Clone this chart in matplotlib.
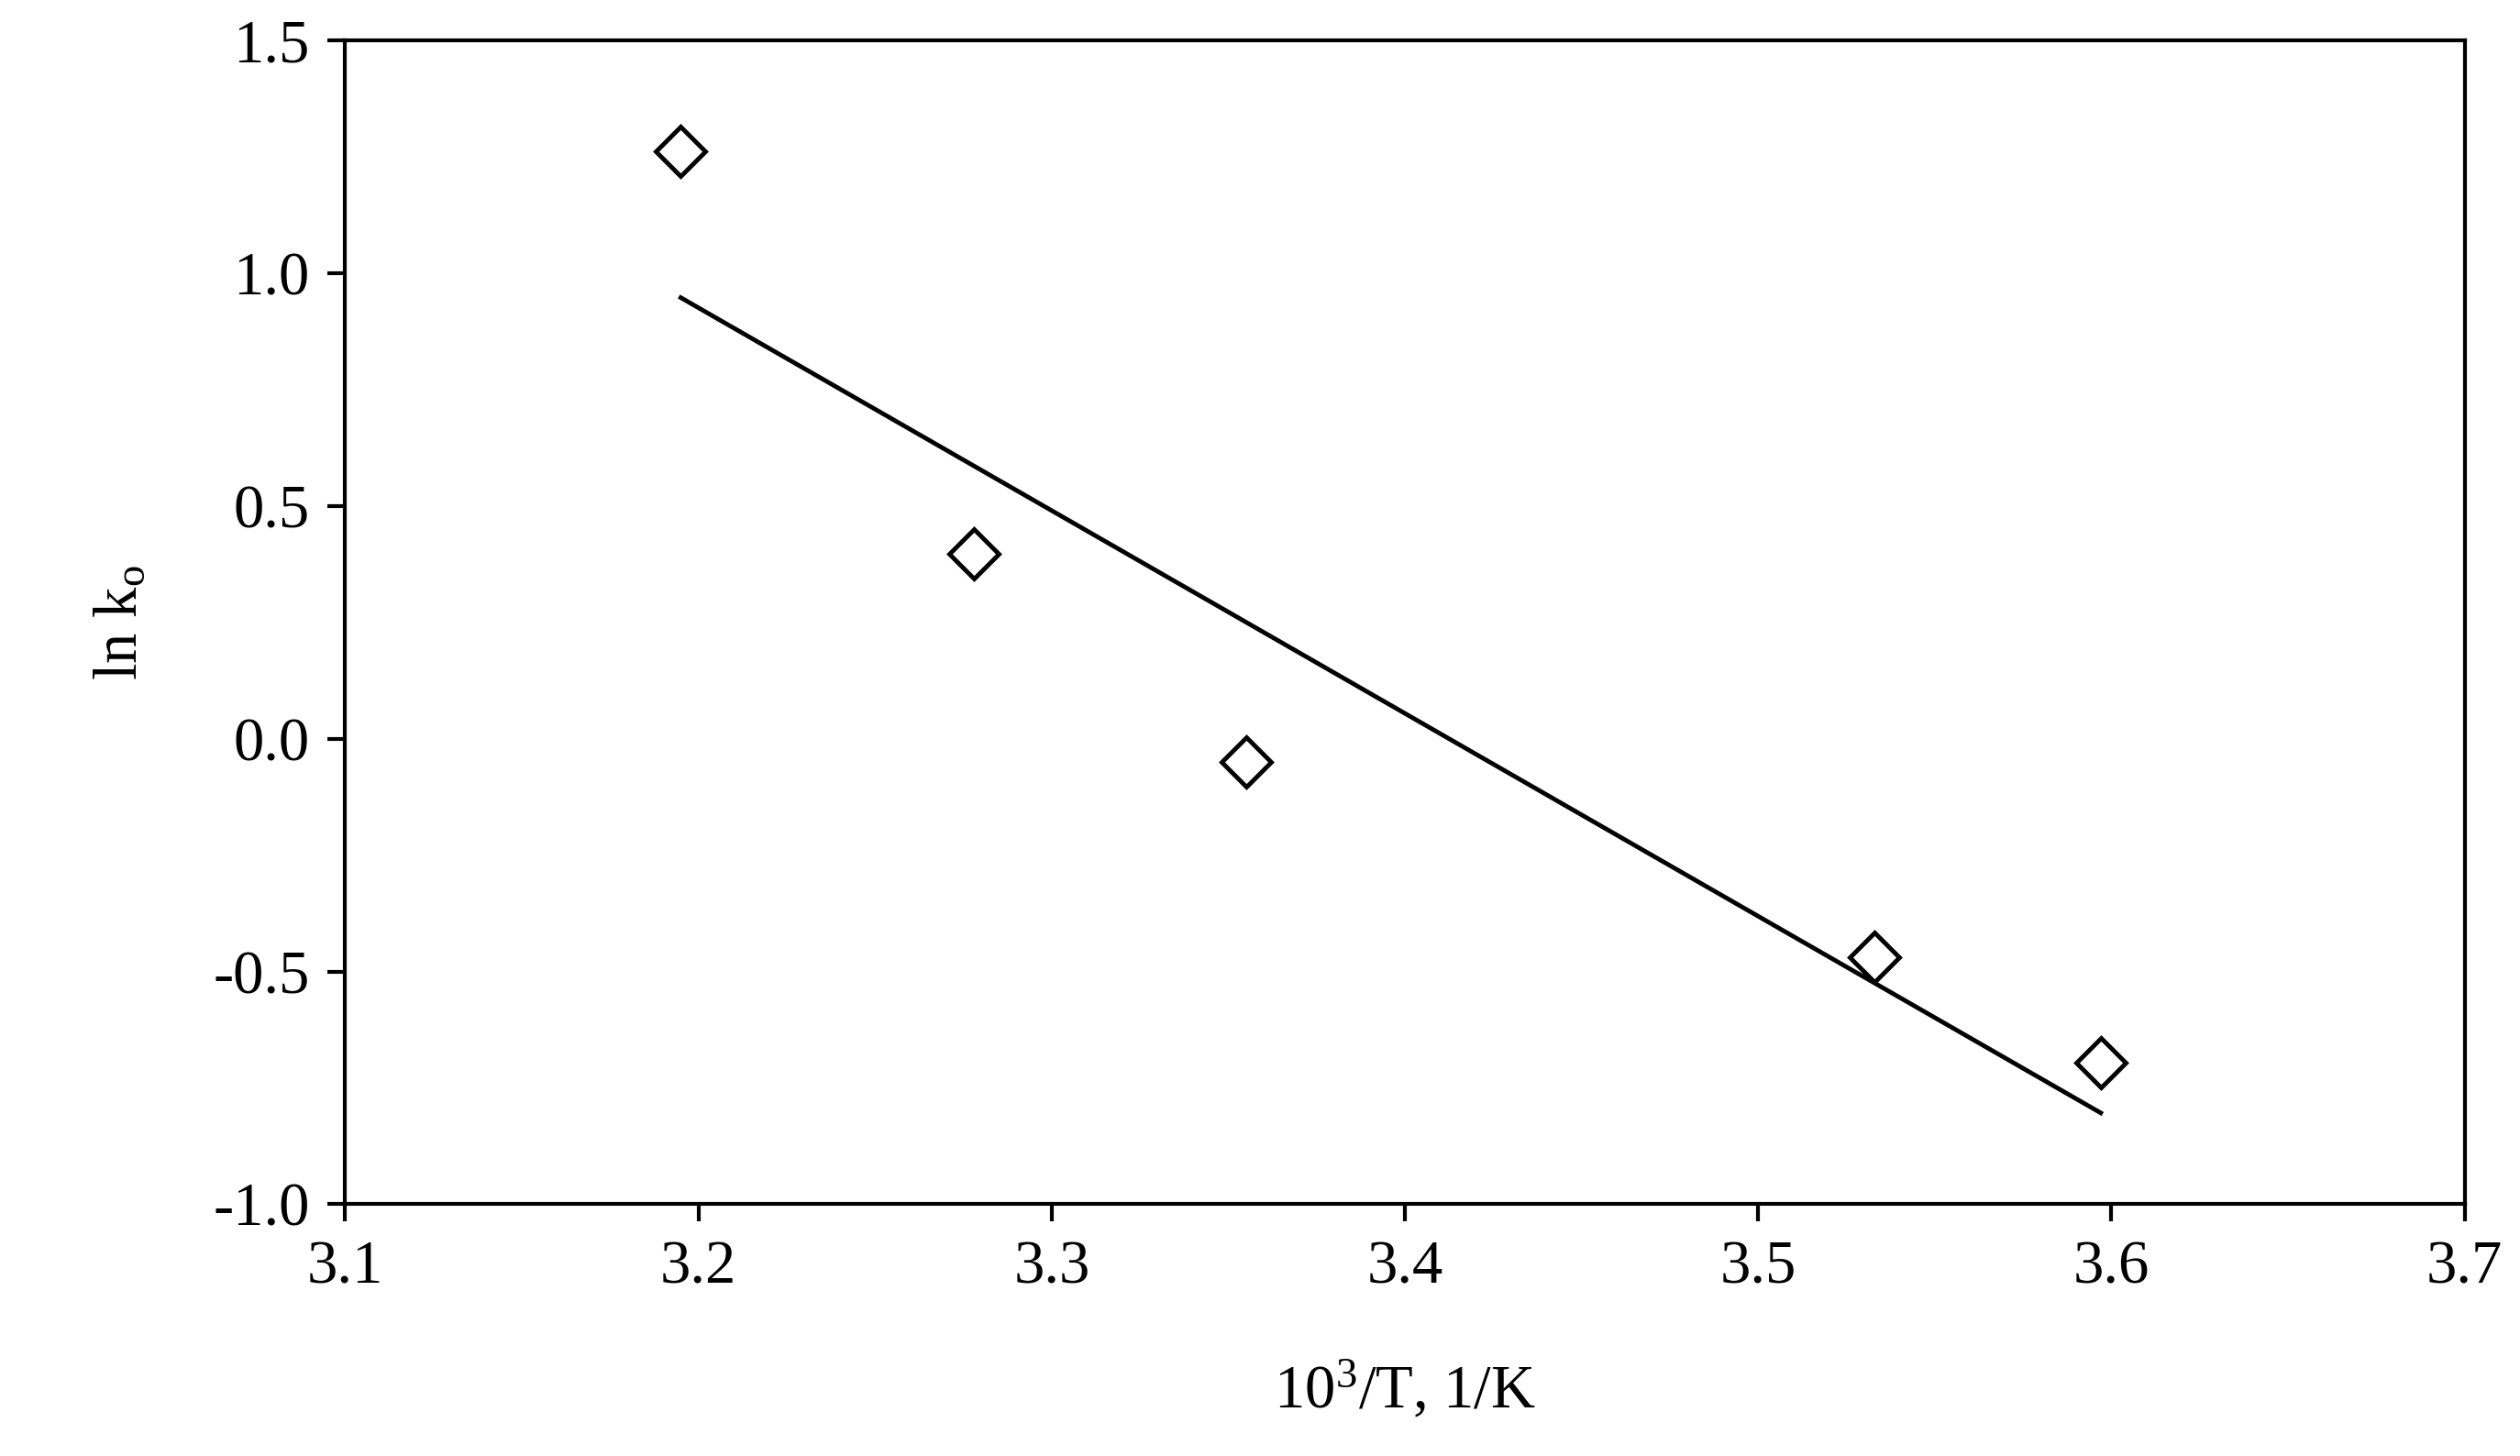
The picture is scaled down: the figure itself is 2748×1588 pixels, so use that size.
import matplotlib
matplotlib.use("Agg")
import matplotlib.pyplot as plt

x_pts = [3.195, 3.278, 3.355, 3.533, 3.597]
y_pts = [1.263, 0.397, -0.050, -0.469, -0.696]
x_fit = [3.195, 3.597]
y_fit = [0.948, -0.804]

plt.rcParams['font.family'] = ['Liberation Serif', 'DejaVu Serif']
plt.rcParams['mathtext.fontset'] = 'custom'
plt.rcParams['mathtext.rm'] = 'Liberation Serif'
plt.rcParams['mathtext.it'] = 'Liberation Serif:italic'
fig = plt.figure(figsize=(27.48, 15.88), dpi=100)
ax = fig.add_axes([0.137, 0.173, 0.841, 0.799])
ax.plot(x_fit, y_fit, color='black', lw=3.5)
ax.plot(x_pts, y_pts, linestyle='none', marker='D', markersize=27, markerfacecolor='white',
        markeredgecolor='black', markeredgewidth=3.5)
ax.set_xlim(3.1, 3.7)
ax.set_ylim(-1.0, 1.5)
ax.set_xticks([3.1, 3.2, 3.3, 3.4, 3.5, 3.6, 3.7])
ax.set_yticks([-1.0, -0.5, 0.0, 0.5, 1.0, 1.5])
ax.set_yticklabels(['-1.0', '-0.5', '0.0', '0.5', '1.0', '1.5'])
for s in ax.spines.values():
    s.set_linewidth(3)
ax.tick_params(direction='out', length=14, width=3, labelsize=48, pad=14)
ax.set_xlabel(r'10$^{\mathrm{3}}$/T, 1/K', fontsize=48, labelpad=50)
ax.set_ylabel(r'ln k$_{\mathrm{o}}$', fontsize=48, labelpad=50)
fig.savefig('out.png', dpi=100)
